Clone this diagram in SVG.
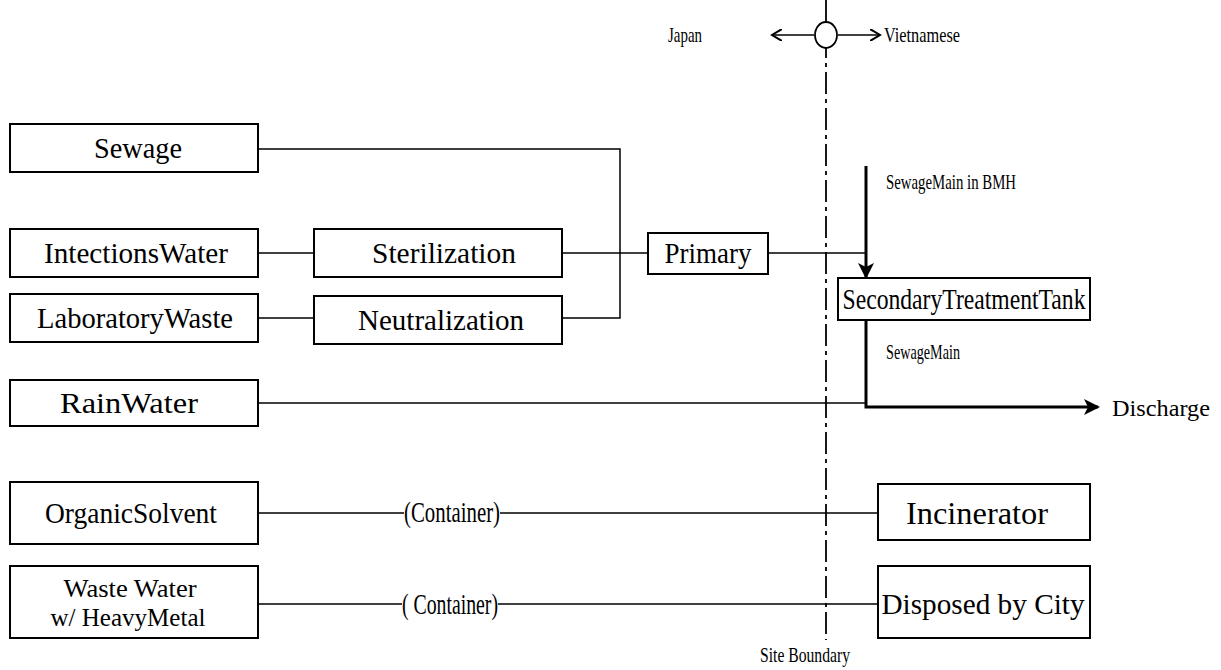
<svg xmlns="http://www.w3.org/2000/svg" width="1221" height="670" viewBox="0 0 1221 670">
<style>
.box{fill:#fff;stroke:#000;stroke-width:2}
.t{font-family:"Liberation Serif","Times New Roman",serif;font-size:29px;fill:#000;text-anchor:middle;dominant-baseline:central}
.s{font-family:"Liberation Serif","Times New Roman",serif;font-size:21px;fill:#000;dominant-baseline:central}
.ln{fill:none;stroke:#000;stroke-width:1.5}
.th{fill:none;stroke:#000;stroke-width:3}
.bd{fill:none;stroke:#000;stroke-width:1.8;stroke-dasharray:22 5 4 5}
</style>
<defs>
<marker id="ahs" markerWidth="12" markerHeight="12" refX="10" refY="6" orient="auto" markerUnits="userSpaceOnUse">
<path d="M0,0 L10,6 L0,12" fill="none" stroke="#000" stroke-width="2"/>
</marker>
<marker id="ahb" markerWidth="16" markerHeight="16" refX="14" refY="8" orient="auto" markerUnits="userSpaceOnUse">
<path d="M0,0 L16,8 L0,16 L4,8 Z" fill="#000"/>
</marker>
</defs>

<g id="connectors">
<line class="bd" x1="826" y1="0" x2="826" y2="640"/>
<line class="ln" x1="814" y1="35" x2="772" y2="35" marker-end="url(#ahs)"/>
<line class="ln" x1="838" y1="35" x2="880" y2="35" marker-end="url(#ahs)"/>
<ellipse cx="826" cy="35" rx="11" ry="13" fill="#fff" stroke="#000" stroke-width="1.8"/>
<polyline class="ln" points="258,149 620,149 620,318 562,318"/>
<line class="ln" x1="562" y1="253" x2="648" y2="253"/>
<line class="ln" x1="258" y1="253" x2="314" y2="253"/>
<line class="ln" x1="258" y1="318" x2="314" y2="318"/>
<line class="ln" x1="768" y1="253" x2="866" y2="253"/>
<line class="th" x1="866" y1="166" x2="866" y2="277" marker-end="url(#ahb)"/>
<line class="ln" x1="258" y1="403" x2="866" y2="403"/>
<polyline class="th" points="866,319 866,407 1098,407" marker-end="url(#ahb)"/>
<line class="ln" x1="258" y1="513" x2="404" y2="513"/>
<line class="ln" x1="500" y1="513" x2="878" y2="513"/>
<line class="ln" x1="258" y1="604" x2="402" y2="604"/>
<line class="ln" x1="498" y1="604" x2="878" y2="604"/>
</g>

<g id="labels">
<text class="s" x="668" y="35" textLength="34" lengthAdjust="spacingAndGlyphs">Japan</text>
<text class="s" x="884" y="35" textLength="76" lengthAdjust="spacingAndGlyphs">Vietnamese</text>
<text class="s" x="886" y="182" textLength="130" lengthAdjust="spacingAndGlyphs">SewageMain in BMH</text>
<text class="s" x="886" y="352" textLength="74" lengthAdjust="spacingAndGlyphs">SewageMain</text>
<text class="s" x="1112" y="408" style="font-size:23px" textLength="98" lengthAdjust="spacingAndGlyphs">Discharge</text>
<text class="s" x="760" y="655" textLength="90" lengthAdjust="spacingAndGlyphs">Site Boundary</text>
<text class="t" x="452" y="512" textLength="96" lengthAdjust="spacingAndGlyphs">(Container)</text>
<text class="t" x="450" y="604" textLength="96" lengthAdjust="spacingAndGlyphs">( Container)</text>
</g>

<g id="sewage"><rect class="box" x="10" y="124" width="248" height="48"/><text class="t" x="138" y="148" textLength="88" lengthAdjust="spacingAndGlyphs">Sewage</text></g>
<g id="intections-water"><rect class="box" x="10" y="229" width="248" height="48"/><text class="t" x="136" y="253" textLength="184" lengthAdjust="spacingAndGlyphs">IntectionsWater</text></g>
<g id="sterilization"><rect class="box" x="314" y="229" width="248" height="48"/><text class="t" x="444" y="253" textLength="144" lengthAdjust="spacingAndGlyphs">Sterilization</text></g>
<g id="laboratory-waste"><rect class="box" x="10" y="294" width="248" height="48"/><text class="t" x="135" y="318" textLength="196" lengthAdjust="spacingAndGlyphs">LaboratoryWaste</text></g>
<g id="neutralization"><rect class="box" x="314" y="296" width="248" height="48"/><text class="t" x="441" y="320" textLength="166" lengthAdjust="spacingAndGlyphs">Neutralization</text></g>
<g id="rain-water"><rect class="box" x="10" y="380" width="248" height="46"/><text class="t" x="129" y="403" textLength="138" lengthAdjust="spacingAndGlyphs">RainWater</text></g>
<g id="primary"><rect class="box" x="648" y="233" width="120" height="41"/><text class="t" x="708" y="253" textLength="87" lengthAdjust="spacingAndGlyphs">Primary</text></g>
<g id="secondary-treatment-tank"><rect class="box" x="838" y="278" width="252" height="42"/><text class="t" x="964" y="299" textLength="243" lengthAdjust="spacingAndGlyphs">SecondaryTreatmentTank</text></g>
<g id="organic-solvent"><rect class="box" x="10" y="482" width="248" height="62"/><text class="t" x="131" y="513" textLength="172" lengthAdjust="spacingAndGlyphs">OrganicSolvent</text></g>
<g id="incinerator"><rect class="box" x="878" y="484" width="212" height="56"/><text class="t" x="977" y="513" style="font-size:32px" textLength="142" lengthAdjust="spacingAndGlyphs">Incinerator</text></g>
<g id="waste-water-heavy-metal"><rect class="box" x="10" y="566" width="248" height="72"/><text class="t" x="130" y="588" style="font-size:25px" textLength="133" lengthAdjust="spacingAndGlyphs">Waste Water</text><text class="t" x="128" y="617" style="font-size:25px" textLength="155" lengthAdjust="spacingAndGlyphs">w/ HeavyMetal</text></g>
<g id="disposed-by-city"><rect class="box" x="878" y="566" width="212" height="72"/><text class="t" x="983" y="604" textLength="203" lengthAdjust="spacingAndGlyphs">Disposed by City</text></g>
</svg>
